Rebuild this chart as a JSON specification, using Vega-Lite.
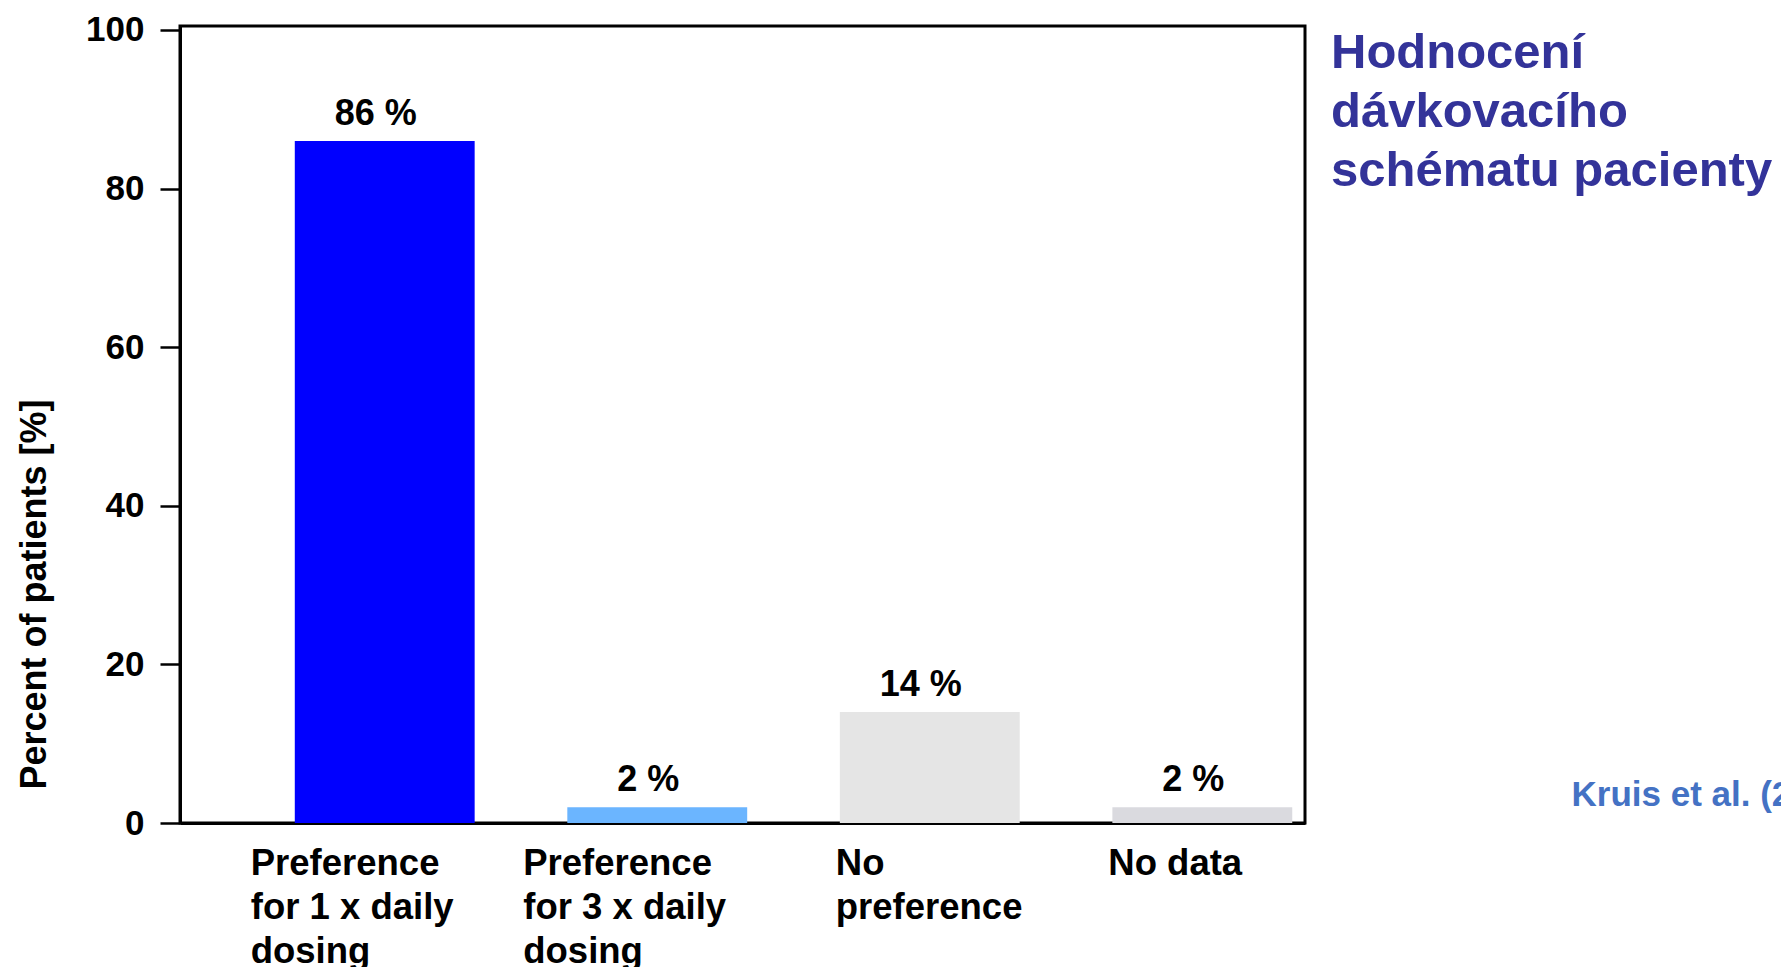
{
  "$schema": "https://vega.github.io/schema/vega-lite/v6.json",
  "autosize": "none",
  "padding": {"left": 180, "top": 26, "right": 476, "bottom": 144},
  "width": 1125,
  "height": 797,
  "background": "white",
  "title": {
    "text": ["Hodnocení", "dávkovacího", "schématu pacienty"],
    "anchor": "start",
    "frame": "group",
    "orient": "top",
    "baseline": "top",
    "dx": 1151,
    "dy": 187,
    "font": "Liberation Sans",
    "fontSize": 49,
    "fontWeight": "bold",
    "color": "#333399",
    "lineHeight": 59
  },
  "config": {
    "view": {"stroke": "black", "strokeWidth": 3},
    "font": "Liberation Sans"
  },
  "data": {
    "values": [
      {"group": "Preference|for 1 x daily|dosing", "pct": 86},
      {"group": "Preference|for 3 x daily|dosing", "pct": 2},
      {"group": "No|preference", "pct": 14},
      {"group": "No data", "pct": 2}
    ]
  },
  "transform": [{"calculate": "datum.pct + ' %'", "as": "pctLabel"}],
  "encoding": {
    "x": {
      "field": "group",
      "type": "nominal",
      "sort": null,
      "scale": {"paddingInner": 0.34, "paddingOuter": 0.234, "align": 0.9},
      "axis": {
        "title": "Kruis et al. (2009)",
        "titleX": 1391,
        "titleY": -18,
        "titleAlign": "left",
        "titleBaseline": "alphabetic",
        "titleAnchor": "start",
        "titleColor": "#4472C4",
        "titleFont": "Liberation Sans",
        "titleFontSize": 35,
        "titleFontWeight": "bold",
        "labelExpr": "split(datum.label, '|')",
        "labelAngle": 0,
        "labelAlign": "left",
        "labelBaseline": "top",
        "labelPadding": 22,
        "labelFont": "Liberation Sans",
        "labelFontSize": 36.5,
        "labelFontWeight": "bold",
        "labelColor": "black",
        "labelLineHeight": 44,
        "labelOffset": {"condition": {"test": "indexof(datum.value, 'Preference') === 0", "value": -134}, "value": -94},
        "labelOverlap": false,
        "labelLimit": 0,
        "ticks": false,
        "domain": true,
        "domainColor": "black",
        "domainWidth": 3,
        "zindex": 0
      }
    },
    "y": {
      "field": "pct",
      "type": "quantitative",
      "scale": {"domain": [0, 100.5], "nice": false, "zero": true},
      "axis": {
        "values": [0, 20, 40, 60, 80, 100],
        "title": "Percent of patients [%]",
        "titleFont": "Liberation Sans",
        "titleFontSize": 36,
        "titleFontWeight": "bold",
        "titleColor": "black",
        "titleAngle": -90,
        "titleX": -135,
        "titleY": 568,
        "titleAlign": "center",
        "titleBaseline": "alphabetic",
        "labelFont": "Liberation Sans",
        "labelFontSize": 35,
        "labelFontWeight": "bold",
        "labelColor": "black",
        "labelPadding": 16,
        "labelBaseline": "middle",
        "tickSize": 20,
        "tickWidth": 2.5,
        "tickColor": "black",
        "domain": true,
        "domainColor": "black",
        "domainWidth": 3,
        "grid": false
      }
    }
  },
  "layer": [
    {
      "mark": {"type": "bar"},
      "encoding": {
        "color": {
          "field": "group",
          "type": "nominal",
          "scale": {
            "domain": ["Preference|for 1 x daily|dosing", "Preference|for 3 x daily|dosing", "No|preference", "No data"],
            "range": ["#0000FF", "#6BB5FF", "#E5E5E5", "#DADADF"]
          },
          "legend": null
        }
      }
    },
    {
      "mark": {
        "type": "text",
        "font": "Liberation Sans",
        "fontSize": 36,
        "fontWeight": "bold",
        "color": "black",
        "align": "center",
        "baseline": "alphabetic",
        "dx": -9,
        "dy": -16
      },
      "encoding": {"text": {"field": "pctLabel"}}
    }
  ]
}
